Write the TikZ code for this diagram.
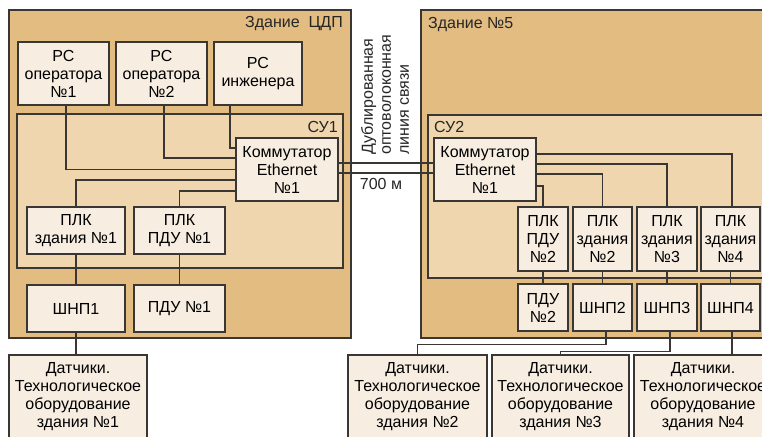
\documentclass[tikz,border=0pt]{standalone}
\usepackage{fontspec}
\setmainfont{Liberation Sans}
\usepackage{xcolor}
\usepackage{tikz}
\usetikzlibrary{positioning,calc}
\definecolor{ink}{HTML}{3A3633}
\definecolor{bldg}{HTML}{E2BC80}
\definecolor{cab}{HTML}{F0D6AF}
\definecolor{cream}{HTML}{F7EDE1}
\tikzset{
  txt/.style={font=\fontsize{16pt}{18pt}\selectfont},
  bldbox/.style={draw=ink,fill=bldg,line width=1.6pt,inner sep=0pt},
  cabbox/.style={draw=ink,fill=cab,line width=1.3pt,inner sep=0pt},
  unit/.style={txt,draw=ink,fill=cream,line width=1.3pt,align=center,inner sep=0pt},
  lab/.style={txt,text=black!85,inner sep=0pt},
  wire/.style={draw=ink,line width=1.1pt},
}

\begin{document}
\begin{tikzpicture}[x=1pt,y=-1pt]
  \useasboundingbox (0,0) rectangle (762,436);
  \clip (0,0) rectangle (762,436);
  \node[bldbox,minimum width=342pt,minimum height=328pt] (bldA) at (180,174) {};
  \node[bldbox,minimum width=379pt,minimum height=328pt] (bldB) at (610.5,174) {};
  \node[cabbox,minimum width=326pt,minimum height=154pt] (su1) at (180,191) {};
  \node[cabbox,minimum width=372pt,minimum height=163pt] (su2) at (614,196.5) {};
  \node[lab,anchor=east] (tA) at (343,24) {Здание\ \ ЦДП};
  \node[lab,anchor=west] (tB) at (428,25) {Здание №5};
  \node[lab,anchor=east] (tsu1) at (338,127) {СУ1};
  \node[lab,anchor=west] (tsu2) at (434,127) {СУ2};
  \node[lab,rotate=90,anchor=north west,align=left] (fiber) at (361,155) {Дублированная\\оптоволоконная\\линия связи};
  \node[lab] (dist) at (381,184) {700 м};

  \node[unit,minimum width=91pt,minimum height=63pt] (pc1) at (63.5,73.5) {РС\\оператора\\№1};
  \node[unit,minimum width=91pt,minimum height=63pt] (pc2) at (161.5,73.5) {РС\\оператора\\№2};
  \node[unit,minimum width=88pt,minimum height=63pt] (pc3) at (258,73.5) {РС\\инженера};
  \node[unit,minimum width=102pt,minimum height=63pt] (sw1) at (287,169.5) {Коммутатор\\Ethernet\\№1};
  \node[unit,minimum width=98pt,minimum height=47pt] (plk1) at (76,230.5) {ПЛК\\здания №1};
  \node[unit,minimum width=91pt,minimum height=47pt] (plkp1) at (179.5,230.5) {ПЛК\\ПДУ №1};
  \node[unit,minimum width=98pt,minimum height=47pt] (shnp1) at (76,308.5) {ШНП1};
  \node[unit,minimum width=91pt,minimum height=47pt] (pdu1) at (179.5,308.5) {ПДУ №1};
  \node[unit,minimum width=138pt,minimum height=84pt] (sen1) at (78,397) {Датчики.\\Технологическое\\оборудование\\здания №1};

  \node[unit,minimum width=102pt,minimum height=63pt] (sw2) at (485,169.5) {Коммутатор\\Ethernet\\№1};
  \node[unit,minimum width=50pt,minimum height=64pt] (plkp2) at (543,239) {ПЛК\\ПДУ\\№2};
  \node[unit,minimum width=59pt,minimum height=64pt] (plk2) at (602.5,239) {ПЛК\\здания\\№2};
  \node[unit,minimum width=60pt,minimum height=64pt] (plk3) at (667,239) {ПЛК\\здания\\№3};
  \node[unit,minimum width=59pt,minimum height=64pt] (plk4) at (730.5,239) {ПЛК\\здания\\№4};
  \node[unit,minimum width=50pt,minimum height=47pt] (pdu2) at (543,307.5) {ПДУ\\№2};
  \node[unit,minimum width=59pt,minimum height=47pt] (shnp2) at (602.5,307.5) {ШНП2};
  \node[unit,minimum width=60pt,minimum height=47pt] (shnp3) at (667,307.5) {ШНП3};
  \node[unit,minimum width=59pt,minimum height=47pt] (shnp4) at (730.5,307.5) {ШНП4};
  \node[unit,minimum width=139pt,minimum height=84pt] (sen2) at (417.5,397) {Датчики.\\Технологическое\\оборудование\\здания №2};
  \node[unit,minimum width=137pt,minimum height=84pt] (sen3) at (560.5,397) {Датчики.\\Технологическое\\оборудование\\здания №3};
  \node[unit,minimum width=138pt,minimum height=84pt] (sen4) at (703,397) {Датчики.\\Технологическое\\оборудование\\здания №4};

  \draw[wire] ([xshift=2.5pt]pc1.south) |- (sw1.west);
  \draw[wire] ([xshift=2.5pt]pc2.south) |- ([yshift=11.5pt]sw1.west);
  \draw[wire] ([xshift=-28pt]pc3.south) |- ([yshift=21.5pt]sw1.west);
  \draw[wire] ([yshift=-10.5pt]sw1.west) -| (plk1.north);
  \draw[wire] ([yshift=-21.5pt]sw1.west) -| (plkp1.north);
  \draw[wire] ([yshift=6.5pt]sw1.east) -- ([yshift=6.5pt]sw2.west);
  \draw[wire] ([yshift=-3.5pt]sw1.east) -- ([yshift=-3.5pt]sw2.west);
  \draw[wire] ([yshift=15.5pt]sw2.east) -| ([xshift=1.5pt]plk4.north);
  \draw[wire] ([yshift=5.5pt]sw2.east) -| (plk3.north);
  \draw[wire] ([yshift=-4.5pt]sw2.east) -| (plk2.north);
  \draw[wire] ([yshift=-16.5pt]sw2.east) -| (plkp2.north);
  \foreach \a/\b in {plk1/shnp1,plkp1/pdu1,plkp2/pdu2,plk2/shnp2,plk3/shnp3,plk4/shnp4}
    \draw[wire] (\a) -- (\b);
  \draw[wire] (shnp1.south) -- (shnp1.south |- sen1.north);
  \draw[wire] ([xshift=3.5pt]shnp2.south) -- ++(0,12.5) -| (sen2.north);
  \draw[wire] ([xshift=3pt]shnp3.south) -- ++(0,19.5) -| (sen3.north);
  \draw[wire] ([xshift=1.5pt]shnp4.south) -- ([xshift=1.5pt]shnp4.south |- sen4.north);
\end{tikzpicture}
\end{document}
